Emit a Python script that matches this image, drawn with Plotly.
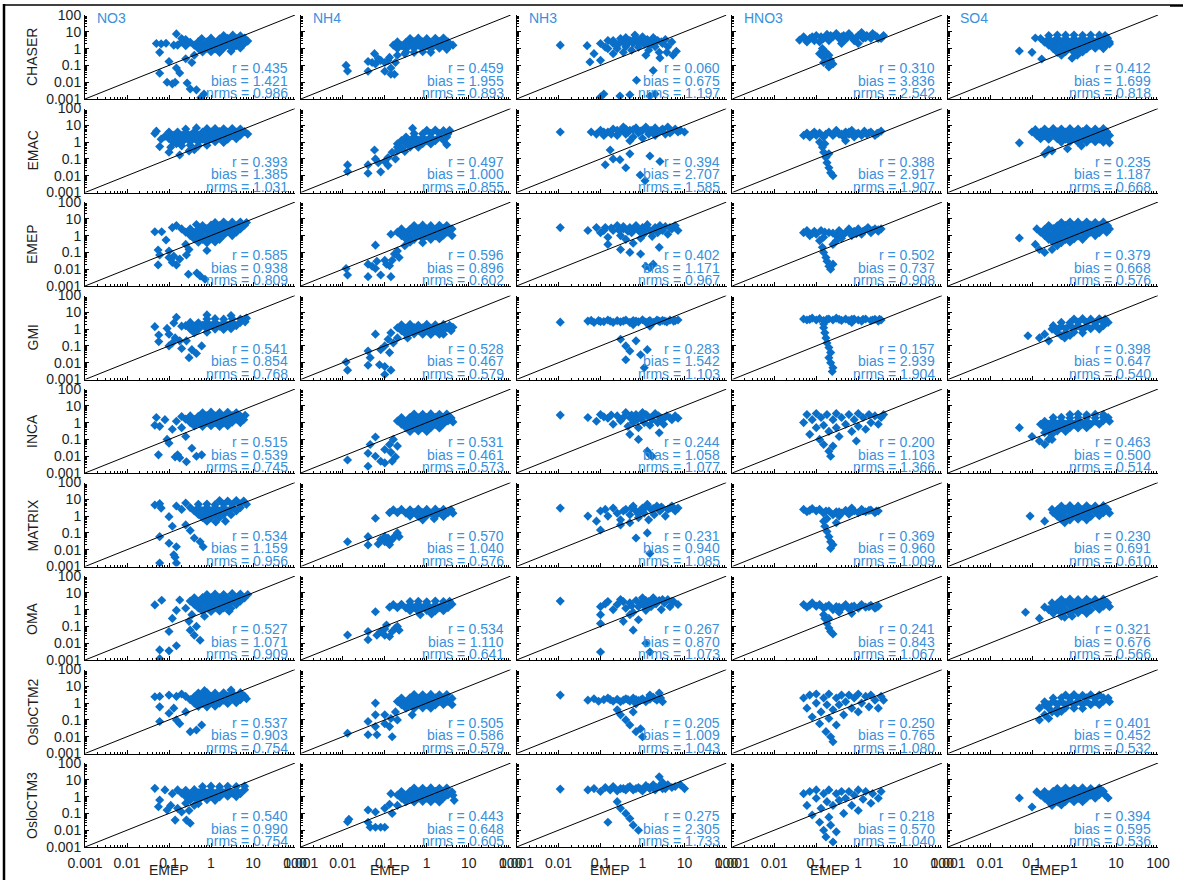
import plotly.graph_objects as go

W, H = 1183, 880

SPECIES = ["NO3", "NH4", "NH3", "HNO3", "SO4"]
MODELS = ["CHASER", "EMAC", "EMEP", "GMI", "INCA", "MATRIX", "OMA", "OsloCTM2", "OsloCTM3"]

# Statistics per model (r, bias, nrms), rows in MODELS order
STATS_NO3 = [(0.435, 1.421, 0.986), (0.393, 1.385, 1.031), (0.585, 0.938, 0.809),
             (0.541, 0.854, 0.768), (0.515, 0.539, 0.745), (0.534, 1.159, 0.956),
             (0.527, 1.071, 0.909), (0.537, 0.903, 0.754), (0.540, 0.990, 0.754)]
STATS_NH4 = [(0.459, 1.955, 0.893), (0.497, 1.000, 0.855), (0.596, 0.896, 0.602),
             (0.528, 0.467, 0.579), (0.531, 0.461, 0.573), (0.570, 1.040, 0.576),
             (0.534, 1.110, 0.641), (0.505, 0.586, 0.579), (0.443, 0.648, 0.605)]
STATS_NH3 = [(0.060, 0.675, 1.197), (0.394, 2.707, 1.585), (0.402, 1.171, 0.967),
             (0.283, 1.542, 1.103), (0.244, 1.058, 1.077), (0.231, 0.940, 1.085),
             (0.267, 0.870, 1.073), (0.205, 1.009, 1.043), (0.275, 2.305, 1.733)]
STATS_HNO3 = [(0.310, 3.836, 2.542), (0.388, 2.917, 1.907), (0.502, 0.737, 0.908),
              (0.157, 2.939, 1.904), (0.200, 1.103, 1.366), (0.369, 0.960, 1.009),
              (0.241, 0.843, 1.067), (0.250, 0.765, 1.080), (0.218, 0.570, 1.040)]
STATS_SO4 = [(0.412, 1.699, 0.818), (0.235, 1.187, 0.668), (0.379, 0.668, 0.576),
             (0.398, 0.647, 0.540), (0.463, 0.500, 0.514), (0.230, 0.691, 0.610),
             (0.321, 0.676, 0.566), (0.401, 0.452, 0.532), (0.394, 0.595, 0.536)]

# (EMEP observation, model) concentration pairs
NO3_CHASER = [(0.05,2),(0.065,1.9),(0.085,2.1),(0.06,0.6),(0.15,7.5),(0.1,0.17),(0.06,0.034),(0.15,0.07),
    (0.18,0.035),(0.09,0.01),(0.12,0.008),(0.14,0.01),(0.27,0.009),(0.32,0.004),(0.45,0.0035),(0.68,0.002),
    (0.57,0.0012),(0.25,0.25),(0.4,0.4),(0.35,0.15),(0.13,1.6),(0.2,4),(0.25,3.5),
    (2,6),(3.3,6.3),(5,5.8),(0.6,4),(1,4.2),(1.6,3.8),(2.5,4.1),(4,3.9),(6.3,4.2),
    (0.2,2.5),(0.32,2.4),(0.5,2.6),(0.8,2.5),(1.25,2.4),(2,2.6),(3.2,2.5),(5,2.4),(7.5,2.8),
    (0.16,1.6),(0.25,1.5),(0.4,1.6),(0.63,1.7),(1,1.5),(1.6,1.6),(2.5,1.7),(4,1.5),(6,1.8),
    (0.5,1),(0.8,1.05),(1.25,0.95),(2,1.05),(3.2,1),(5,1.1),(0.63,0.63),(1,0.65),(1.6,0.6),(3,0.7)]
NO3_EMAC = [(0.046,3.3),(0.05,4.5),(0.06,0.54),(0.065,1.5),(0.08,2.2),(0.1,0.25),(0.18,0.17),(0.3,0.3),
    (0.4,0.35),(0.15,0.8),(0.11,0.5),
    (0.25,6),(0.45,7),(0.8,6.3),(1.25,6.5),(2,6.2),(3.2,6.5),(5,6),
    (0.1,4),(0.16,4),(0.25,3.8),(0.4,4.1),(0.63,4),(1,3.9),(1.6,4.2),(2.5,4),(4,3.9),(6.3,4.2),
    (0.125,2.5),(0.2,2.4),(0.32,2.6),(0.5,2.5),(0.8,2.4),(1.25,2.6),(2,2.5),(3.2,2.4),(5,2.6),(7.5,3),
    (0.1,1.6),(0.16,1.5),(0.25,1.6),(0.4,1.7),(0.63,1.5),(1,1.6),(1.6,1.7),(2.5,1.5),(4,1.6),
    (0.125,1),(0.2,0.95),(0.32,1.05),(0.5,1),(0.8,1),(1.25,1.05),(2,0.95),
    (0.2,0.6),(0.32,0.65),(0.5,0.6),(0.8,0.65)]
NO3_EMEP = [(0.046,1.7),(0.067,1.7),(0.085,0.55),(0.12,3),(0.15,4),(0.055,0.14),(0.06,0.07),(0.1,0.05),
    (0.1,0.12),(0.13,0.06),(0.18,0.04),(0.26,0.07),(0.3,0.15),(0.055,0.018),(0.15,0.018),(0.12,0.025),
    (0.29,0.005),(0.46,0.006),(0.55,0.004),(0.72,0.0025),(0.25,0.3),(0.8,0.13),(0.2,2.5),(0.45,4.6),
    (1.25,6),(2,6.5),(3.2,6.3),(5,6.5),(7,6),
    (0.63,4),(1,4.2),(1.6,3.9),(2.5,4.1),(4,4),(6.3,4.2),
    (0.32,2.5),(0.5,2.4),(0.8,2.6),(1.25,2.5),(2,2.4),(3.2,2.6),(5,2.5),
    (0.25,1.6),(0.4,1.5),(0.63,1.7),(1,1.6),(1.6,1.5),(2.5,1.7),(4,1.6),
    (0.32,1),(0.5,1.05),(0.8,0.95),(1.25,1),(2,1.05),(3.2,1),
    (0.4,0.63),(0.63,0.6),(1,0.65),(1.6,0.6),(0.5,0.4),(0.8,0.38),(1.25,0.42)]
NO3_GMI = [(0.046,1.4),(0.057,0.45),(0.057,0.18),(0.09,1.1),(0.1,0.1),(0.13,2.3),(0.15,5),(0.2,0.07),
    (0.18,0.2),(0.3,0.02),(0.26,0.2),(0.45,0.035),(0.6,0.1),(0.8,7),(0.1,0.5),(0.14,0.3),(0.12,0.15),
    (0.35,0.06),(0.2,1.5),(3,6.5),
    (0.8,4),(1.25,4.2),(2,3.9),(3.2,4.1),(5,4),(7,4.5),
    (0.32,2.5),(0.5,2.4),(0.8,2.6),(1.25,2.5),(2,2.4),(3.2,2.6),(5,2.5),(6.5,2.7),
    (0.25,1.6),(0.4,1.5),(0.63,1.7),(1,1.6),(1.6,1.5),(2.5,1.7),(4,1.6),
    (0.32,1),(0.5,0.95),(0.8,1.05),(1.25,1),(2,0.95),(3,1.05),(0.4,0.6),(0.8,0.65)]
NO3_INCA = [(0.046,0.7),(0.06,0.6),(0.05,2),(0.056,0.012),(0.09,0.1),(0.1,0.06),(0.14,0.009),
    (0.16,0.012),(0.18,0.008),(0.26,0.0047),(0.45,0.01),(0.6,0.012),(0.08,1.5),(0.12,0.4),(0.15,1.2),
    (0.2,0.5),(0.25,0.15),(0.35,0.03),
    (0.63,3.8),(1,4.2),(1.6,3.9),(2.5,4.1),(4,3.8),
    (0.2,2.3),(0.32,2.5),(0.5,2.4),(0.8,2.6),(1.25,2.5),(2,2.4),(3.2,2.6),(5,2.5),(6.5,2.7),
    (0.25,1.6),(0.4,1.5),(0.63,1.7),(1,1.6),(1.6,1.5),(2.5,1.7),(4,1.6),(6,1.5),
    (0.32,1),(0.5,0.95),(0.8,1.05),(1.25,1),(2,0.95),(3.2,1.05),(5,1),
    (0.4,0.63),(0.63,0.6),(1,0.65),(1.6,0.6),(2.5,0.65)]
NO3_MATRIX = [(0.046,4.6),(0.06,5.5),(0.065,3),(0.1,0.93),(0.06,0.06),(0.1,0.024),(0.15,0.015),
    (0.13,0.005),(0.14,0.0035),(0.06,0.0016),(0.15,0.0016),(0.65,0.015),(0.32,0.14),(0.25,0.3),
    (0.12,0.25),(0.4,0.05),(0.55,0.03),(0.15,4),(0.2,2.5),(0.25,6),(2.2,0.5),
    (1.6,8.5),(2.5,8),(4,8.5),(6,8),
    (0.5,5),(0.8,5.2),(1.25,4.8),(2,5.1),(3.2,5),(5,5.2),(7,5),
    (0.32,3.2),(0.5,3.1),(0.8,3.3),(1.25,3.2),(2,3.1),(3.2,3.3),(5,3.2),
    (0.4,2),(0.63,2.1),(1,1.9),(1.6,2),(2.5,2.1),(4,2),
    (0.5,1.25),(0.8,1.2),(1.25,1.3),(2,1.25),(3,1.2),(0.63,0.8),(1,0.78),(1.6,0.82),(0.8,0.5),(1.3,0.45)]
NO3_OMA = [(0.046,1.9),(0.067,3.6),(0.1,0.05),(0.15,0.9),(0.18,3.7),(0.15,0.007),(0.06,0.004),
    (0.1,0.0035),(0.06,0.0012),(0.32,0.06),(0.4,0.03),(0.45,0.1),(0.55,0.015),(0.3,0.2),(0.12,0.3),
    (0.25,1.2),(0.35,0.5),(0.7,0.4),
    (0.8,8),(1.25,8.5),(2,8),(3.2,9),(5,8.5),(7.5,8),
    (0.4,5),(0.63,5.2),(1,4.8),(1.6,5.1),(2.5,5),(4,5.2),(6.3,5),
    (0.32,3.2),(0.5,3.1),(0.8,3.3),(1.25,3.2),(2,3.1),(3.2,3.3),(5,3.2),
    (0.4,2),(0.63,2.1),(1,1.9),(1.6,2),(2.5,2.1),(4,2),
    (0.5,1.25),(0.8,1.2),(1.25,1.3),(2,1.25),(3,1.2),(0.63,0.8),(1,0.78),(1.6,0.82),(2.7,0.8)]
NO3_OsloCTM2 = [(0.046,2.4),(0.06,0.6),(0.06,2.5),(0.1,3),(0.06,0.08),(0.1,0.25),(0.15,0.1),(0.18,0.06),
    (0.32,0.02),(0.45,0.025),(0.6,0.05),(0.13,0.5),(0.25,0.3),(0.15,2.5),(0.2,3.5),(0.7,5.5),(3,6),
    (0.5,4),(0.8,4.2),(1.25,3.9),(2,4.1),(3.2,4),(5,4.2),
    (0.25,2.5),(0.4,2.4),(0.63,2.6),(1,2.5),(1.6,2.4),(2.5,2.6),(4,2.5),(6.3,2.6),
    (0.32,1.6),(0.5,1.5),(0.8,1.7),(1.25,1.6),(2,1.5),(3.2,1.7),(5,1.6),(7,1.8),
    (0.4,1),(0.63,0.95),(1,1.05),(1.6,1),(2.5,0.95),(4,1.05),(0.5,0.63),(0.8,0.6),(1.25,0.65)]
NO3_OsloCTM3 = [(0.046,3.1),(0.06,0.63),(0.056,0.25),(0.09,0.16),(0.14,0.04),(0.26,0.04),(0.32,0.026),
    (0.11,0.3),(0.16,0.2),(0.2,0.12),(0.12,1.5),(0.08,2.5),(0.4,0.3),(0.3,0.15),
    (0.63,4),(1,4.2),(1.6,3.9),(2.5,4.1),(4,4),(6.3,4.2),
    (0.16,2.5),(0.25,2.4),(0.4,2.6),(0.63,2.5),(1,2.4),(1.6,2.6),(2.5,2.5),(4,2.4),(6.3,2.6),
    (0.2,1.6),(0.32,1.5),(0.5,1.7),(0.8,1.6),(1.25,1.5),(2,1.7),(3.2,1.6),(5,1.5),
    (0.25,1),(0.4,0.95),(0.63,1.05),(1,1),(1.6,0.95),(2.5,1.05),(4,1),
    (0.32,0.63),(0.5,0.6),(0.8,0.65),(1.25,0.6),(0.25,0.4),(0.5,0.38)]

NH4_CHASER = [(0.012,0.1),(0.013,0.046),(0.04,0.17),(0.04,0.045),(0.057,0.5),(0.08,0.2),(0.1,0.045),
    (0.14,0.07),(0.17,0.03),(0.14,0.03),(0.05,0.15),(0.06,0.12),(0.07,0.25),(0.1,0.15),(0.12,0.2),
    (0.13,0.3),(0.18,0.15),(0.2,0.4),(0.3,0.5),(4.2,1.6),
    (0.4,4),(0.63,4.2),(1,3.9),(1.6,4.1),(2.5,4.3),
    (0.2,2.5),(0.32,2.4),(0.5,2.6),(0.8,2.5),(1.25,2.4),(2,2.6),(3.2,2.5),
    (0.16,1.6),(0.25,1.5),(0.4,1.7),(0.63,1.6),(1,1.5),(1.6,1.7),(2.5,1.6),(3.5,1.5),
    (0.2,1),(0.32,0.95),(0.5,1.05),(0.8,1),(1.25,0.95),(2,1.05),(3,0.9),
    (0.32,0.63),(0.5,0.6),(0.8,0.65),(1.25,0.6)]
NH4_EMAC = [(0.013,0.044),(0.013,0.018),(0.04,0.044),(0.04,0.014),(0.057,0.34),(0.08,0.017),(0.1,0.07),
    (0.06,0.1),(0.07,0.06),(0.12,0.04),(0.12,0.12),(0.15,0.25),(0.18,0.1),(0.46,6.6),(3,0.7),
    (1,5),(1.6,5.2),(2.5,4.8),(3.5,5),
    (0.5,3.2),(0.8,3.1),(1.25,3.3),(2,3.2),(3.2,3.1),
    (0.32,2),(0.5,2.1),(0.8,1.9),(1.25,2),(2,2.1),(3,2),
    (0.25,1.25),(0.4,1.2),(0.63,1.3),(1,1.25),(1.6,1.2),(2.5,1.3),
    (0.2,0.8),(0.32,0.78),(0.5,0.82),(0.8,0.8),(1.25,0.78),
    (0.2,0.5),(0.25,0.45),(0.4,0.5),(0.63,0.5),(0.2,0.3),(0.3,0.28)]
NH4_EMEP = [(0.012,0.011),(0.013,0.0045),(0.04,0.02),(0.04,0.0036),(0.06,0.011),(0.065,0.03),
    (0.08,0.0045),(0.1,0.034),(0.13,0.016),(0.14,0.0036),(0.15,0.034),(0.22,0.05),(0.06,0.27),(0.14,1.2),
    (0.05,0.015),(0.11,0.02),(0.17,0.08),(0.2,0.12),(0.3,0.25),
    (0.5,4),(0.8,4.2),(1.25,3.9),(2,4.1),(3,4),
    (0.25,2.5),(0.4,2.4),(0.63,2.6),(1,2.5),(1.6,2.4),(2.5,2.6),(4,2.5),
    (0.2,1.6),(0.32,1.5),(0.5,1.7),(0.8,1.6),(1.25,1.5),(2,1.7),(3.2,1.6),
    (0.25,1),(0.4,0.95),(0.63,1.05),(1,1),(1.6,0.95),(2.5,1.05),(4,1),
    (0.32,0.63),(0.5,0.6),(0.8,0.65),(1.25,0.6),(2,0.65),(0.4,0.4),(0.8,0.38)]
NH4_GMI = [(0.012,0.011),(0.013,0.0036),(0.04,0.05),(0.04,0.007),(0.045,0.02),(0.06,0.5),(0.075,0.0075),
    (0.1,0.006),(0.1,0.002),(0.14,0.0036),(0.13,0.04),(0.1,0.1),(0.14,0.6),(0.16,0.15),(0.2,0.3),
    (0.12,0.25),(0.08,0.06),(0.35,0.3),(2.5,0.5),
    (0.25,1.8),(0.4,1.9),(0.63,1.7),(1,1.9),(1.6,1.8),(2.5,1.9),(3.5,1.7),
    (0.2,1.2),(0.32,1.15),(0.5,1.25),(0.8,1.2),(1.25,1.15),(2,1.25),(3.2,1.2),(4.2,1.3),
    (0.25,0.8),(0.4,0.75),(0.63,0.82),(1,0.8),(1.6,0.78),(2.5,0.82),(3.8,0.8),
    (0.32,0.5),(0.5,0.52),(0.8,0.5),(1.25,0.48),(2,0.5)]
NH4_INCA = [(0.013,0.006),(0.04,0.015),(0.04,0.0025),(0.06,0.14),(0.045,0.05),(0.08,0.005),(0.1,0.004),
    (0.14,0.017),(0.15,0.005),(0.18,0.009),(0.2,0.04),(0.13,0.05),(0.1,0.025),(0.06,0.01),(0.16,0.1),
    (0.5,3.2),(0.8,3.1),(1.25,3.3),(2,3.1),(3,3.2),
    (0.25,2),(0.4,2.1),(0.63,1.9),(1,2),(1.6,2.1),(2.5,2),(3.8,1.9),
    (0.2,1.25),(0.32,1.2),(0.5,1.3),(0.8,1.25),(1.25,1.2),(2,1.3),(3.2,1.25),(4.2,1.1),
    (0.25,0.8),(0.4,0.78),(0.63,0.82),(1,0.8),(1.6,0.78),(2.5,0.82),
    (0.32,0.5),(0.5,0.48),(0.8,0.52),(1.25,0.5),(2,0.48),(0.4,0.3),(0.63,0.32),(1,0.3)]
NH4_MATRIX = [(0.013,0.03),(0.04,0.06),(0.04,0.019),(0.06,0.74),(0.07,0.022),(0.08,0.04),(0.1,0.03),
    (0.12,0.05),(0.15,0.04),(0.18,0.07),(0.2,0.1),(0.22,0.06),(0.1,0.06),(0.13,0.02),(1.5,0.7),(0.8,0.6),
    (0.16,2.4),(0.25,2.5),(0.4,2.4),(0.63,2.6),(1,2.5),(1.6,2.6),(2.5,2.5),(3.8,2.4),
    (0.13,1.6),(0.2,1.6),(0.32,1.5),(0.5,1.7),(0.8,1.6),(1.25,1.5),(2,1.7),(3.2,1.6),(4.2,1.5),
    (0.4,1),(0.63,0.95),(1,1.05),(1.6,1),(2.5,0.95)]
NH4_OMA = [(0.013,0.031),(0.04,0.05),(0.04,0.016),(0.06,0.75),(0.065,0.03),(0.08,0.05),(0.1,0.07),
    (0.13,0.025),(0.15,0.05),(0.18,0.08),(0.2,0.1),(0.22,0.06),(0.1,0.03),(0.11,0.12),(1.3,0.55),(0.7,0.5),
    (0.4,3),(0.63,3.1),(1,2.9),(1.6,3.2),(2.5,3),(3.5,3.1),
    (0.16,2),(0.25,2.1),(0.4,1.9),(0.63,2),(1,2.1),(1.6,1.9),(2.5,2),(4,2.1),
    (0.13,1.4),(0.2,1.3),(0.32,1.25),(0.5,1.35),(0.8,1.3),(1.25,1.25),(2,1.35),(3.2,1.3),
    (0.4,0.85),(0.63,0.8),(1,0.88),(1.6,0.82),(2.5,0.85)]
NH4_OsloCTM2 = [(0.013,0.016),(0.04,0.08),(0.04,0.013),(0.06,0.2),(0.06,0.04),(0.065,0.013),(0.1,0.06),
    (0.13,0.04),(0.15,0.01),(0.14,0.12),(0.06,1),(0.2,0.1),(0.1,0.2),(0.18,0.3),(0.45,0.2),
    (0.5,3.2),(0.8,3.1),(1.25,3.3),(2,3.1),(3,3.2),
    (0.25,2),(0.4,2.1),(0.63,1.9),(1,2),(1.6,2.1),(2.5,2),(4,1.9),
    (0.2,1.25),(0.32,1.2),(0.5,1.3),(0.8,1.25),(1.25,1.2),(2,1.3),(3.2,1.25),
    (0.25,0.8),(0.4,0.78),(0.63,0.82),(1,0.8),(1.6,0.78),(2.5,0.82),(4,0.8),
    (0.32,0.5),(0.5,0.48),(0.8,0.52),(1.25,0.5)]
NH4_OsloCTM3 = [(0.013,0.032),(0.014,0.045),(0.04,0.16),(0.04,0.03),(0.045,0.015),(0.06,0.015),
    (0.08,0.015),(0.1,0.015),(0.06,0.12),(0.1,0.2),(0.14,1.5),(0.15,0.1),(0.2,0.3),(0.13,0.35),(4.5,0.6),
    (0.5,3.2),(0.8,3.1),(1.25,3.3),(2,3.1),(3,3.2),
    (0.25,2),(0.4,2.1),(0.63,1.9),(1,2),(1.6,2.1),(2.5,2),(4,1.9),
    (0.2,1.25),(0.32,1.2),(0.5,1.3),(0.8,1.25),(1.25,1.2),(2,1.3),(3.2,1.25),(4.2,1.2),
    (0.25,0.8),(0.4,0.78),(0.63,0.82),(1,0.8),(1.6,0.78),(2.5,0.82),
    (0.32,0.5),(0.5,0.48),(0.8,0.52),(1.25,0.5),(2,0.48)]

NH3_CHASER = [(0.011,1.6),(0.048,1.5),(0.056,0.16),(0.1,0.2),(0.07,0.5),(1.8,0.05),(0.72,0.013),
    (0.1,0.0013),(0.12,0.002),(0.29,0.0015),(0.5,0.0018),(1.5,0.0015),(2,0.002),(2.6,0.28),(3.8,0.6),
    (5.3,0.4),(6.4,0.7),(0.66,6.5),(0.2,0.5),(0.15,1),(0.1,2),(0.13,1.2),(0.15,3),(0.2,2),(0.25,1),
    (0.3,4),(0.35,2.5),(0.4,1.3),(0.5,3),(0.55,0.8),(0.6,2),(0.7,4),(0.8,1.2),(0.9,2.8),(1,5),(1.1,1.8),
    (1.3,3.5),(1.4,0.8),(1.6,2.2),(1.8,4.5),(2,1.3),(2.3,3),(2.5,0.6),(3,2),(3.5,3.5),(4,1.3),(5,2.5),
    (1.2,0.4),(0.35,0.6),(0.2,3),(0.3,2.5),(0.45,2),(0.6,3.2),(0.8,2.2),(1.2,2.8),(1.5,1.5),(2,3.5),
    (2.8,2.5),(0.4,4.5),(0.25,1.6)]
NH3_EMAC = [(0.011,4),(0.06,4),(0.08,3),(0.17,0.34),(0.29,0.09),(0.13,0.045),(0.88,0.011),(2.6,0.07),
    (1.15,0.005),(0.2,0.1),(0.5,0.2),(0.4,0.03),(1.5,0.15),(0.1,5),(0.12,2.5),(0.15,4),(0.2,6),(0.25,2.5),
    (0.3,4.5),(0.35,8),(0.4,3),(0.5,5),(0.6,2),(0.7,7),(0.8,3.5),(1,5),(1,1.7),(1.2,8),(1.4,3),(1.6,5),
    (2,2.5),(2,7),(2.5,4),(3,6),(3.5,3),(4,8),(5,4.5),(6,6),(8,5),(10,4),(0.5,1.2),
    (0.12,4),(0.18,3),(0.25,5),(0.45,3.8),(0.6,5.5),(0.9,4.5),(1.3,5),(1.8,4),(2.8,5),(4.5,3.5),(7,4),
    (0.4,6)]
NH3_EMEP = [(0.011,3),(0.05,2),(0.08,3),(1.5,0.012),(1.2,0.015),(1.8,0.02),(0.15,0.3),(0.3,0.15),
    (0.5,0.1),(0.9,0.08),(2.5,0.2),(0.1,1.5),(0.13,3),(0.15,0.8),(0.2,2),(0.25,4),(0.3,1),(0.35,2.5),
    (0.4,0.6),(0.5,3),(0.55,1.5),(0.7,4),(0.8,2),(0.9,0.7),(1,3),(1.1,1.3),(1.3,4.5),(1.5,2),(1.7,0.9),
    (2,3),(2.3,1.5),(2.6,4),(3,2),(3.5,3.5),(4,1.2),(5,2.5),(6,4),(7,2),(0.6,0.35),
    (0.12,2),(0.18,2.8),(0.28,2),(0.45,1.8),(0.65,2.6),(0.9,1.6),(1.2,2.3),(1.8,2.2),(2.8,2.6),
    (4.5,3),(0.35,3.5)]
NH3_GMI = [(0.011,2.6),(0.4,0.1),(0.5,0.05),(0.9,0.03),(0.4,0.015),(1.1,0.005),(0.3,0.25),(0.7,0.2),
    (1.3,0.06),(0.05,3),(0.07,2.5),(0.09,3.2),(0.12,2.8),(0.15,3.5),(0.2,2.5),(0.25,3.2),(0.3,2.7),
    (0.4,3.5),(0.5,2.5),(0.6,3.2),(0.8,2.7),(1,3.6),(1.2,2.6),(1.5,3.2),(1.8,2.5),(2.2,3.5),(2.6,2.8),
    (3,3.3),(3.8,2.7),(4.5,3.4),(5.5,3),(7,3.5),(0.6,1.8),(1.5,1.5),
    (0.06,3.3),(0.1,2.8),(0.17,3),(0.35,3),(0.7,3),(1.4,2.9),(2.4,3.1),(3.4,3),(6,3.2)]
NH3_INCA = [(0.011,2.8),(1.5,0.012),(1.3,0.02),(1.7,0.01),(0.5,0.2),(0.8,0.1),(2.5,0.25),(0.05,2),
    (0.08,1.2),(0.1,3),(0.15,1.8),(0.2,0.8),(0.25,2.5),(0.3,1.3),(0.4,4),(0.45,0.6),(0.5,2),(0.6,1),
    (0.7,3),(0.8,0.5),(0.9,1.8),(1,4),(1.1,1),(1.3,2.5),(1.5,0.7),(1.7,1.5),(2,3.5),(2.3,1),(2.7,2),
    (3.2,0.8),(3.8,2.5),(5,1.5),(6,2.5),(7,1.8),
    (0.12,2.2),(0.18,2.8),(0.35,2),(0.55,2.8),(0.75,1.5),(1.2,3),(1.6,2),(2.4,2.5),(3,1.5),(4.5,2),
    (0.6,1.4)]
NH3_MATRIX = [(0.011,3),(0.1,0.15),(1.3,0.1),(1.5,0.006),(0.08,0.5),(0.05,1),(0.3,0.3),(0.7,0.05),
    (0.1,2),(0.15,1),(0.2,3),(0.25,1.5),(0.3,0.6),(0.4,2.5),(0.5,1.2),(0.6,4),(0.7,2),(0.8,0.8),(1,3),
    (1.1,1.5),(1.3,5),(1.4,0.6),(1.6,2.5),(1.9,1.2),(2.2,4),(2.6,2),(3,3),(3.5,1),(4,2.5),(5,4),(6,2),
    (7,3),(0.5,0.4),
    (0.13,2.5),(0.35,2),(0.55,3),(0.9,2.2),(1.2,3.5),(1.8,2.8),(2.8,3.5),(4.5,3),(0.8,1.3)]
NH3_OMA = [(0.011,3.2),(0.1,0.5),(0.1,0.15),(0.6,0.06),(0.1,0.003),(1.5,0.003),(1.2,0.01),(0.35,0.2),
    (0.8,0.25),(0.1,1.5),(0.15,3),(0.2,1),(0.25,2),(0.3,4),(0.4,1.2),(0.5,2.5),(0.6,0.7),(0.7,3.5),
    (0.8,1.5),(1,5),(1,2),(1.2,0.9),(1.4,3),(1.6,1.5),(1.8,5),(2.1,2.2),(2.5,3.5),(2.8,1),(3.3,2.5),
    (4,4),(4.5,1.5),(5.5,3),(7,2),(0.5,0.5),
    (0.13,2.2),(0.35,3),(0.55,1.7),(0.9,2.5),(1.2,3.5),(2,3),(3,4),(5,3),(1.3,1.3)]
NH3_OsloCTM2 = [(0.011,3),(0.3,0.2),(0.4,0.1),(0.5,0.05),(0.7,0.02),(0.9,0.03),(1,0.01),(0.25,0.4),
    (0.6,0.3),(0.05,1.5),(0.07,1.8),(0.09,1.3),(0.12,1.6),(0.15,2),(0.2,1.3),(0.25,1.7),(0.3,1.2),
    (0.4,1.8),(0.5,1.3),(0.6,2),(0.8,1.4),(1,1.8),(1.2,1.2),(1.5,1.7),(1.8,2.2),(2.2,1.5),(2.7,2),
    (3,1.2),(0.7,0.9),(1.5,3),(2.5,4),
    (0.35,1.5),(0.45,1.6),(0.7,1.6),(0.9,1.5),(1.3,1.6),(2,1.8),(0.17,1.6)]
NH3_OsloCTM3 = [(0.011,2.8),(0.3,0.2),(0.4,0.1),(0.5,0.05),(0.6,0.02),(0.15,0.03),(0.8,0.01),(0.25,0.5),
    (0.05,2.5),(0.07,3),(0.1,2),(0.13,3.5),(0.17,2.5),(0.2,4),(0.25,2.2),(0.3,3),(0.4,2.5),(0.5,4),
    (0.6,2.5),(0.8,3.5),(1,2.2),(1.2,4.5),(1.5,3),(1.8,5),(2,2.5),(2.5,4),(3,7),(3.5,3),(4,5),(5,3.5),
    (6,4),(8,5),(10,3),(2.5,15),
    (0.35,3),(0.45,3.5),(0.7,3),(0.9,2.8),(1.4,3.5),(2.2,3.5),(3,3),(1.1,3)]

HNO3_CHASER = [(0.04,3.2),(0.05,5),(0.06,2.5),(0.07,4),(0.09,3),(0.1,6),(0.12,2.5),(0.15,4),(0.18,7),
    (0.2,3),(0.25,5),(0.3,8),(0.35,4),(0.45,6),(0.5,3.5),(0.6,8),(0.7,5),(0.8,3),(1,6),(1.2,9),(1.3,4),
    (1.6,6),(2,4),(2.2,8),(2.8,5),(3.5,4),(4,6),(0.4,2),(1,2),(0.12,0.5),(0.14,1),(0.15,0.3),(0.17,0.6),
    (0.18,0.15),(0.2,0.4),(0.22,0.2),(0.25,0.12),(0.2,0.08),(0.15,0.15),
    (0.08,5),(0.13,5),(0.22,6),(0.4,5),(0.55,5.5),(0.9,4.5),(1.5,4.5),(2.5,6),(3,4)]
HNO3_EMAC = [(0.05,2.5),(0.06,3.5),(0.07,2),(0.09,4),(0.1,2.5),(0.12,3.5),(0.15,2),(0.2,4),(0.25,2.5),
    (0.3,5),(0.35,3),(0.45,2),(0.5,4),(0.6,3),(0.7,5),(0.8,2),(1,3.5),(1.2,2.5),(1.4,4.5),(1.6,3),(2,4),
    (2.5,2.5),(3,3.5),(3.5,4.5),(0.5,1.2),(0.12,1),(0.14,0.5),(0.15,0.25),(0.17,0.12),(0.18,0.06),
    (0.2,0.03),(0.22,0.015),(0.25,0.01),(0.16,0.8),(0.2,0.2),
    (0.08,3),(0.17,3),(0.28,3.5),(0.4,3),(0.6,4),(0.9,3),(1.3,3.3),(1.8,3.5),(2.8,3.3)]
HNO3_EMEP = [(0.05,1.5),(0.06,2),(0.07,1),(0.09,1.8),(0.1,1.2),(0.13,2),(0.2,1.5),(0.3,1),(0.35,2),
    (0.4,0.7),(0.5,1.5),(0.6,2.5),(0.7,1),(0.8,1.8),(1,2.5),(1.2,1.2),(1.4,2),(1.7,3),(2,1.5),(2.5,2.5),
    (3,1.8),(3.5,2.5),(0.3,0.5),(0.25,0.3),(0.12,0.5),(0.14,0.2),(0.15,0.1),(0.17,0.05),(0.18,0.03),
    (0.2,0.015),(0.22,0.01),(0.25,0.02),(0.15,0.8),
    (0.08,1.3),(0.16,1.6),(0.25,1.4),(0.45,1.2),(0.65,1.6),(0.9,1.3),(1.3,1.8),(2.2,2),(3,2.2)]
HNO3_GMI = [(0.05,4),(0.06,3.5),(0.08,4.5),(0.1,3.5),(0.12,4.2),(0.15,3.2),(0.2,4),(0.25,3.5),(0.3,4.5),
    (0.4,3.3),(0.5,4),(0.6,3.2),(0.8,4),(1,3.5),(1.2,3),(1.5,4),(2,3.2),(2.5,3.8),(3,3),(3.5,3.5),
    (0.7,2.5),(0.15,2),(0.15,1.2),(0.16,0.6),(0.17,0.3),(0.18,0.15),(0.2,0.08),(0.22,0.04),(0.2,0.02),
    (0.22,0.01),(0.25,0.005),(0.24,0.003),
    (0.07,3.8),(0.18,3.8),(0.35,3.8),(0.7,3.8),(1.3,3.8),(2.2,3.5),(3.2,3.8)]
HNO3_INCA = [(0.05,1),(0.06,3),(0.07,0.2),(0.08,1.5),(0.1,0.5),(0.1,3.5),(0.12,0.1),(0.13,2),
    (0.15,0.05),(0.15,0.7),(0.18,3),(0.2,0.3),(0.2,0.02),(0.22,0.01),(0.25,1.5),(0.3,0.5),(0.3,3.5),
    (0.35,0.15),(0.4,2),(0.5,0.8),(0.6,3),(0.7,0.3),(0.8,1.5),(1,3.5),(1,0.6),(1.3,2),(1.5,0.4),(1.8,3),
    (2,1),(2.5,2.5),(3,0.8),(3.5,2),(4,3),(0.9,0.08),(0.25,0.04)]
HNO3_MATRIX = [(0.05,2.5),(0.06,1.8),(0.08,2.8),(0.1,2),(0.12,2.5),(0.15,1.5),(0.2,2),(0.25,1.2),
    (0.3,1.8),(0.4,1.5),(0.5,2.2),(0.6,1.3),(0.8,2),(1,1.6),(1.2,2.5),(1.5,1.8),(2,2.3),(2.5,1.6),(3,2),
    (0.7,3),(0.35,1),(0.15,0.5),(0.16,0.25),(0.18,0.12),(0.2,0.06),(0.22,0.03),(0.25,0.02),(0.22,0.012),
    (0.18,0.7),(0.3,0.4),
    (0.07,2.2),(0.17,2),(0.35,1.8),(0.7,1.8),(1.3,2),(1.8,2.2),(2.7,2)]
HNO3_OMA = [(0.05,2),(0.06,1.4),(0.08,2.5),(0.1,1.6),(0.12,2),(0.15,1.2),(0.2,1.8),(0.25,1),(0.3,1.5),
    (0.4,1.2),(0.5,2),(0.6,1.1),(0.8,1.6),(1,1.2),(1.2,2),(1.5,1.4),(2,1.8),(2.5,1.2),(3,1.6),(0.7,0.6),
    (0.35,0.7),(0.15,0.5),(0.16,0.3),(0.18,0.15),(0.2,0.08),(0.22,0.05),(0.25,0.035),(0.2,0.3),
    (0.07,1.8),(0.17,1.5),(0.35,1.4),(0.7,1.5),(1.1,1.6),(1.8,1.5),(2.7,1.4)]
HNO3_OsloCTM2 = [(0.05,2),(0.06,0.5),(0.07,3),(0.08,0.15),(0.1,1),(0.1,3.5),(0.12,0.06),(0.13,0.3),
    (0.15,2),(0.17,0.02),(0.18,0.8),(0.2,3.5),(0.2,0.12),(0.22,0.01),(0.25,0.4),(0.25,0.005),(0.3,2),
    (0.3,0.05),(0.35,0.8),(0.4,3),(0.45,0.2),(0.5,1.2),(0.6,3),(0.7,0.5),(0.8,2),(1,0.3),(1,3.5),
    (1.2,1),(1.5,2.5),(1.8,0.6),(2,3),(2.5,1.5),(3,0.5),(3.5,2.5),(4,1.5)]
HNO3_OsloCTM3 = [(0.05,1.5),(0.06,0.3),(0.07,2),(0.08,0.08),(0.1,0.8),(0.1,2.5),(0.12,0.03),(0.13,0.2),
    (0.15,1.5),(0.15,0.01),(0.17,0.004),(0.18,0.5),(0.2,2.5),(0.2,0.06),(0.22,0.02),(0.25,0.3),
    (0.25,0.002),(0.3,1.5),(0.3,0.008),(0.35,0.6),(0.4,2),(0.45,0.1),(0.5,0.8),(0.6,2),(0.7,0.3),
    (0.8,1.2),(1,2.5),(1,0.15),(1.3,0.7),(1.5,2),(2,0.4),(2.2,1.5),(3,0.8),(3.5,2)]

SO4_CHASER = [(0.05,0.72),(0.1,0.6),(0.12,4.3),(0.17,0.24),(0.9,0.27),(7,1.9),
    (0.25,6),(0.4,6.5),(0.63,6.3),(1,6.5),(1.6,6.2),(2.5,6.5),(4,6.3),(5.5,6),
    (0.16,4),(0.25,3.8),(0.4,4.1),(0.63,4),(1,3.9),(1.6,4.2),(2.5,4),(4,3.9),(6.3,4.2),
    (0.2,2.4),(0.32,2.6),(0.5,2.5),(0.8,2.4),(1.25,2.6),(2,2.5),(3.2,2.4),(5,2.6),(7,2.5),
    (0.25,1.6),(0.4,1.7),(0.63,1.5),(1,1.6),(1.6,1.7),(2.5,1.5),(4,1.6),(6,1.7),
    (0.32,1),(0.5,0.95),(0.8,1.05),(1.25,1),(2,0.95),(3.2,1.05),(5,1),
    (0.4,0.6),(0.63,0.65),(1,0.6),(1.6,0.63),(0.5,0.4),(1.2,0.4)]
SO4_EMAC = [(0.05,0.9),(0.2,0.2),(0.25,0.35),(0.3,0.3),(7,0.9),(0.7,0.4),(1.5,0.6),
    (0.12,5.5),(0.2,6),(0.32,6.5),(0.5,6),(0.8,6.3),(1.25,6),(2,6.5),(3.2,6),(5,6.3),
    (0.1,4),(0.16,4),(0.25,3.8),(0.4,4.1),(0.63,4),(1,3.9),(1.6,4.2),(2.5,4),(4,3.9),(6,4.2),
    (0.13,2.5),(0.2,2.4),(0.32,2.6),(0.5,2.5),(0.8,2.4),(1.25,2.6),(2,2.5),(3.2,2.4),(5,2.6),(7,2.5),
    (0.16,1.6),(0.25,1.5),(0.4,1.6),(0.63,1.5),(1,1.7),(1.6,1.5),(2.5,1.6),(4,1.5),(6,1.6),
    (0.5,1),(0.8,1.05),(1.25,0.95),(2,1),(3.2,1.05),(5,1)]
SO4_EMEP = [(0.05,0.72),(0.12,0.3),(0.15,0.15),(0.2,0.1),(0.3,0.15),
    (0.5,6),(0.8,6.5),(1.25,6.3),(2,6.5),(3.2,6),(5,6.3),
    (0.25,4),(0.4,3.8),(0.63,4.1),(1,4),(1.6,3.9),(2.5,4.2),(4,4),(6.3,3.9),
    (0.13,2.5),(0.2,2.4),(0.32,2.6),(0.5,2.5),(0.8,2.4),(1.25,2.6),(2,2.5),(3.2,2.4),(5,2.6),(7,2.5),
    (0.16,1.6),(0.25,1.5),(0.4,1.7),(0.63,1.6),(1,1.5),(1.6,1.7),(2.5,1.6),(4,1.5),(6,1.6),
    (0.2,1),(0.32,0.95),(0.5,1.05),(0.8,1),(1.25,0.95),(2,1.05),(3.2,1),
    (0.25,0.6),(0.4,0.65),(0.63,0.6),(1,0.63),(1.6,0.6),(0.32,0.4),(0.5,0.38),(0.8,0.42),(0.4,0.25)]
SO4_GMI = [(0.08,0.4),(0.15,0.3),(0.25,0.2),(0.6,0.3),(0.2,0.5),
    (1,4),(1.6,4.2),(2.5,3.9),(4,4.1),(5.5,4),
    (0.5,2.5),(0.8,2.4),(1.25,2.6),(2,2.5),(3.2,2.4),(5,2.6),(6.5,2.5),
    (0.32,1.6),(0.5,1.5),(0.8,1.7),(1.25,1.6),(2,1.5),(3.2,1.7),(5,1.6),
    (0.3,1),(0.4,0.95),(0.63,1.05),(1,1),(1.6,0.95),(2.5,1.05),(4,1),
    (0.4,0.63),(0.63,0.6),(1,0.65),(1.6,0.6),(0.5,0.4),(0.8,0.42)]
SO4_INCA = [(0.05,0.5),(0.1,0.15),(0.15,0.08),(0.2,0.05),(0.25,0.1),(0.3,0.1),
    (0.8,3),(1.25,3.2),(2,2.9),(3.2,3.1),(5,3),
    (0.32,2),(0.5,2.1),(0.8,1.9),(1.25,2),(2,2.1),(3.2,1.9),(5,2.1),(6.5,2),
    (0.2,1.2),(0.32,1.3),(0.5,1.25),(0.8,1.2),(1.25,1.3),(2,1.25),(3.2,1.2),(5,1.3),(7,1.2),
    (0.16,0.8),(0.25,0.78),(0.4,0.82),(0.63,0.8),(1,0.78),(1.6,0.82),(2.5,0.8),(4,0.8),
    (0.2,0.5),(0.32,0.48),(0.5,0.52),(0.8,0.5),(1.25,0.48),(2,0.5),
    (0.25,0.3),(0.4,0.32),(0.63,0.3),(0.3,0.2),(0.2,0.25)]
SO4_MATRIX = [(0.09,1),(0.2,0.5),(0.6,0.4),
    (0.5,4),(0.8,4.2),(1.25,3.9),(2,4.1),(3.2,4),(5,4.2),
    (0.3,2.5),(0.4,2.4),(0.63,2.6),(1,2.5),(1.6,2.4),(2.5,2.6),(4,2.5),(6.3,2.6),
    (0.32,1.6),(0.5,1.5),(0.8,1.7),(1.25,1.6),(2,1.5),(3.2,1.7),(5,1.6),(7,1.5),
    (0.4,1),(0.63,0.95),(1,1.05),(1.6,1),(2.5,0.95),(4,1.05),
    (0.5,0.63),(0.8,0.6),(1.25,0.65),(2,0.6)]
SO4_OMA = [(0.07,0.7),(0.15,0.3),(0.6,0.35),
    (0.5,4),(0.8,4.2),(1.25,3.9),(2,4.1),(3.2,4),(5,4.2),
    (0.3,2.5),(0.4,2.4),(0.63,2.6),(1,2.5),(1.6,2.4),(2.5,2.6),(4,2.5),(6.3,2.6),
    (0.2,1.4),(0.32,1.6),(0.5,1.5),(0.8,1.7),(1.25,1.6),(2,1.5),(3.2,1.7),(5,1.6),(7,1.5),
    (0.25,1),(0.4,1),(0.63,0.95),(1,1.05),(1.6,1),(2.5,0.95),(4,1.05),
    (0.32,0.6),(0.5,0.63),(0.8,0.6),(1.25,0.65),(2,0.6),(0.5,0.4),(0.9,0.4)]
SO4_OsloCTM2 = [(0.15,0.1),(0.2,0.2),(0.25,0.12),(0.4,0.25),(0.15,0.5),
    (0.63,3),(1,3.2),(1.6,2.9),(2.5,3.1),(4,3),
    (0.32,2),(0.5,2.1),(0.8,1.9),(1.25,2),(2,2.1),(3.2,1.9),(5,2.1),(6.5,2),
    (0.2,1.2),(0.32,1.3),(0.5,1.25),(0.8,1.2),(1.25,1.3),(2,1.25),(3.2,1.2),(5,1.3),(7,1.2),
    (0.2,0.8),(0.25,0.78),(0.4,0.82),(0.63,0.8),(1,0.78),(1.6,0.82),(2.5,0.8),(4,0.8),
    (0.25,0.5),(0.4,0.48),(0.63,0.52),(1,0.5),(1.6,0.48),(0.3,0.3),(0.5,0.32)]
SO4_OsloCTM3 = [(0.05,0.83),(0.13,1.9),(0.1,0.24),(6.5,0.83),
    (0.4,3),(0.63,3.2),(1,3.1),(1.6,3.3),(2.5,3),(4,3.2),
    (0.2,2),(0.32,2.1),(0.5,1.9),(0.8,2),(1.25,2.1),(2,1.9),(3.2,2),(5,2.1),
    (0.16,1.2),(0.25,1.3),(0.4,1.25),(0.63,1.2),(1,1.3),(1.6,1.25),(2.5,1.2),(4,1.3),(5.5,1.25),
    (0.2,0.8),(0.32,0.78),(0.5,0.82),(0.8,0.8),(1.25,0.78),(2,0.82),(3.2,0.8),
    (0.25,0.5),(0.4,0.48),(0.63,0.52),(1,0.5),(1.6,0.5),(0.3,0.3),(0.5,0.32)]

POINTS = {
    "NO3": [NO3_CHASER, NO3_EMAC, NO3_EMEP, NO3_GMI, NO3_INCA, NO3_MATRIX, NO3_OMA, NO3_OsloCTM2, NO3_OsloCTM3],
    "NH4": [NH4_CHASER, NH4_EMAC, NH4_EMEP, NH4_GMI, NH4_INCA, NH4_MATRIX, NH4_OMA, NH4_OsloCTM2, NH4_OsloCTM3],
    "NH3": [NH3_CHASER, NH3_EMAC, NH3_EMEP, NH3_GMI, NH3_INCA, NH3_MATRIX, NH3_OMA, NH3_OsloCTM2, NH3_OsloCTM3],
    "HNO3": [HNO3_CHASER, HNO3_EMAC, HNO3_EMEP, HNO3_GMI, HNO3_INCA, HNO3_MATRIX, HNO3_OMA, HNO3_OsloCTM2,
             HNO3_OsloCTM3],
    "SO4": [SO4_CHASER, SO4_EMAC, SO4_EMEP, SO4_GMI, SO4_INCA, SO4_MATRIX, SO4_OMA, SO4_OsloCTM2, SO4_OsloCTM3],
}
STATS = {"NO3": STATS_NO3, "NH4": STATS_NH4, "NH3": STATS_NH3, "HNO3": STATS_HNO3, "SO4": STATS_SO4}

DECADES = [0.001, 0.01, 0.1, 1, 10, 100]
DECADE_LABELS = ["0.001", "0.01", "0.1", "1", "10", "100"]
MINOR = [m * d for d in DECADES[:-1] for m in range(2, 10)]

MARK = "#0a6fc9"
TEXT_BLUE = "#3990dc"
FONT = "Liberation Sans, Arial, Helvetica, sans-serif"
INK = "#1e1e1e"

# panel grid in pixels
COL_X0 = [85 + 215.75 * j for j in range(5)]
PANEL_W = 210
ROW_Y0 = [15 + 93.5 * i for i in range(9)]
PANEL_H = 84


def px(x):
    return x / W


def py(y):
    return 1 - y / H


fig = go.Figure()
layout = {}
annotations = []
k = 0
for j, sp in enumerate(SPECIES):
    for i, model in enumerate(MODELS):
        k += 1
        sx = "" if k == 1 else str(k)
        xid, yid = "x" + sx, "y" + sx
        x0, y0 = COL_X0[j], ROW_Y0[i]
        pts = POINTS[sp][i]
        fig.add_trace(go.Scatter(
            x=[p[0] for p in pts], y=[p[1] for p in pts], mode="markers",
            marker=dict(symbol="diamond", size=7, color=MARK, line=dict(width=0)),
            xaxis=xid, yaxis=yid, showlegend=False, hoverinfo="skip"))
        fig.add_trace(go.Scatter(
            x=[0.001, 100], y=[0.001, 100], mode="lines",
            line=dict(color="black", width=1), xaxis=xid, yaxis=yid,
            showlegend=False, hoverinfo="skip"))
        common = dict(type="log", range=[-3, 2], showline=True, linecolor="black", linewidth=1,
                      ticks="inside", ticklen=4, tickwidth=1, tickcolor="black",
                      tickvals=DECADES, ticktext=DECADE_LABELS, showgrid=False, zeroline=False,
                      minor=dict(ticks="inside", ticklen=2, tickvals=MINOR, tickcolor="black", showgrid=False),
                      tickfont=dict(family=FONT, size=14, color=INK), fixedrange=True)
        layout["xaxis" + sx] = dict(common, domain=[px(x0), px(x0 + PANEL_W)], anchor=yid,
                                    showticklabels=(i == len(MODELS) - 1), ticklabelstandoff=3)
        layout["yaxis" + sx] = dict(common, domain=[py(y0 + PANEL_H), py(y0)], anchor=xid,
                                    showticklabels=(j == 0))
        r, bias, nrms = STATS[sp][i]
        for t, (lab, val) in enumerate([("r", r), ("bias", bias), ("nrms", nrms)]):
            annotations.append(dict(
                xref="paper", yref="paper", x=px(x0 + 205), y=py(y0 + 53.3 + 12.5 * t),
                xanchor="right", yanchor="middle", showarrow=False,
                text=f"{lab} = {val:.3f}", font=dict(family=FONT, size=14, color=TEXT_BLUE)))
        if i == 0:
            annotations.append(dict(
                xref="paper", yref="paper", x=px(x0 + 10), y=py(y0 + 3.3), xanchor="left",
                yanchor="middle", showarrow=False, text=sp,
                font=dict(family=FONT, size=14, color=TEXT_BLUE)))
        if j == 0:
            annotations.append(dict(
                xref="paper", yref="paper", x=px(32), y=py(y0 + 42), xanchor="center",
                yanchor="middle", showarrow=False, text=model, textangle=-90,
                font=dict(family=FONT, size=14, color=INK)))
    annotations.append(dict(
        xref="paper", yref="paper", x=px(169.5 + 220 * j), y=py(870), xanchor="center",
        yanchor="middle", showarrow=False, text="EMEP",
        font=dict(family=FONT, size=14, color=INK)))

# outer frame strokes
shapes = [
    dict(type="line", xref="paper", yref="paper", x0=px(4), x1=px(4), y0=0, y1=py(4),
         line=dict(color="black", width=2.5)),
    dict(type="line", xref="paper", yref="paper", x0=px(4), x1=px(1170), y0=py(5), y1=py(5),
         line=dict(color="black", width=1.3)),
    dict(type="line", xref="paper", yref="paper", x0=px(1170), x1=1, y0=py(5.5), y1=py(5.5),
         line=dict(color="black", width=2.5)),
]

fig.update_layout(
    width=W, height=H, margin=dict(l=0, r=0, t=0, b=0, pad=0, autoexpand=False),
    paper_bgcolor="white", plot_bgcolor="white", showlegend=False,
    annotations=annotations, shapes=shapes, **layout)

fig.write_html("out.html", config={"displayModeBar": False})
